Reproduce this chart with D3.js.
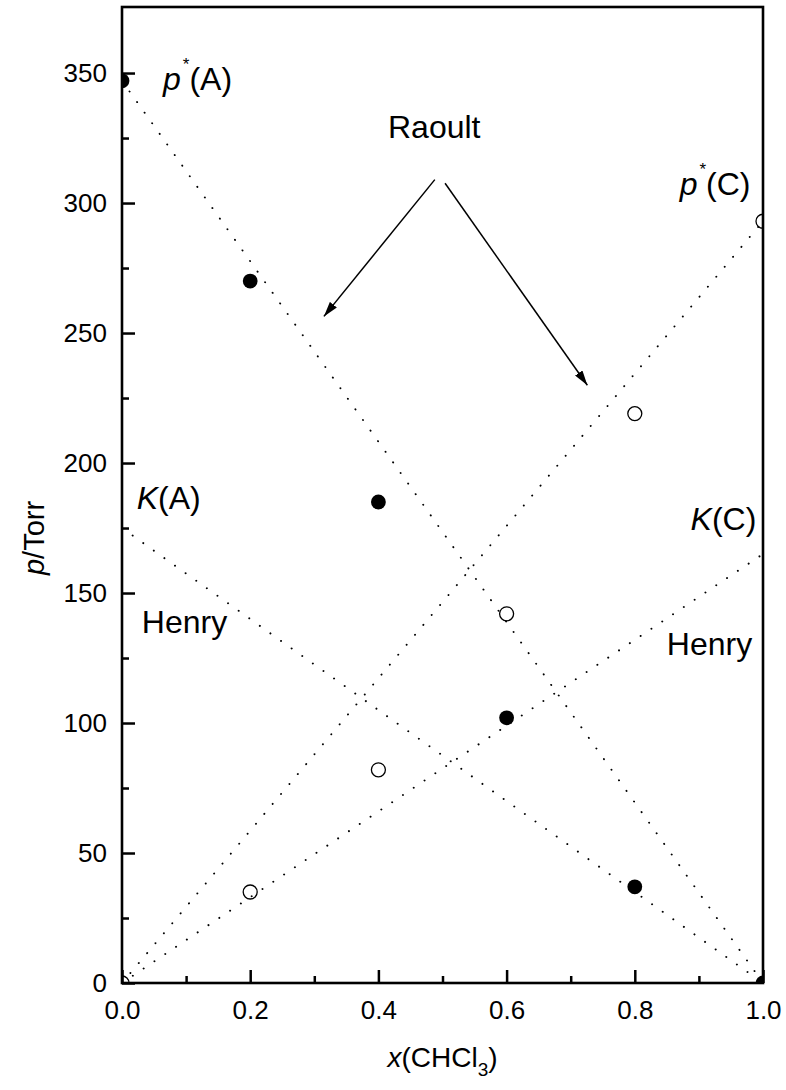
<!DOCTYPE html>
<html>
<head>
<meta charset="utf-8">
<script src="https://cdn.jsdelivr.net/npm/d3@7"></script>
<style>
  body { margin: 0; background: #fff; }
  text { font-family: "Liberation Sans", Arial, sans-serif; fill: #000; }
</style>
</head>
<body>
<svg id="drawing_region"></svg>
<script>
// mole fraction of chloroform
const xFrac = [0.0, 0.2, 0.4, 0.6, 0.8, 1.0];
// partial pressures (Torr)
const pAcetone = [347, 270, 185, 102, 37, 0];     // filled circles
const pChloroform = [0, 35, 82, 142, 219, 293];   // open circles

// ideal (Raoult) and Henry lines, end points [x, p]
const raoultA = [[0, 347], [1, 0]];
const raoultC = [[0, 0], [1, 293]];
const henryA = [[0, 175], [1, 0]];
const henryC = [[0, 0], [1, 165]];

const xMajor = [0, 0.2, 0.4, 0.6, 0.8, 1.0];
const xMinor = [0.1, 0.3, 0.5, 0.7, 0.9];
const yMajor = [0, 50, 100, 150, 200, 250, 300, 350];
const yMinor = [25, 75, 125, 175, 225, 275, 325];

// text labels placed in data coords
const labels = [
    { x: 0.064, y: 343.5, parts: [["p", "i"], ["*", "sup"], ["(A)", ""]] },
    { x: 0.415, y: 325, parts: [["Raoult", ""]] },
    { x: 0.870, y: 303, parts: [["p", "i"], ["*", "sup"], ["(C)", ""]] },
    { x: 0.023, y: 182.3, parts: [["K", "i"], ["(A)", ""]] },
    { x: 0.031, y: 134.6, parts: [["Henry", ""]] },
    { x: 0.887, y: 174.2, parts: [["K", "i"], ["(C)", ""]] },
    { x: 0.850, y: 126.2, parts: [["Henry", ""]] }
];

// arrows from "Raoult" to the two ideal lines [x0, y0, x1, y1]
const arrows = [
    [0.488, 309, 0.315, 256.4],
    [0.504, 307.6, 0.726, 229.9]
];

const config = {
    width: 786,
    height: 1090,
    margin: { top: 7, right: 23, bottom: 107, left: 122 }
};

const svg = d3.select('#drawing_region')
    .attr('width', config.width)
    .attr('height', config.height);

const inner_width = config.width - config.margin.left - config.margin.right;
const inner_height = config.height - config.margin.top - config.margin.bottom;

const chart = svg.append('g')
    .attr('transform', `translate(${config.margin.left}, ${config.margin.top})`);

const xscale = d3.scaleLinear().domain([0, 1.0]).range([0, inner_width]);
const yscale = d3.scaleLinear().domain([0, 375.4]).range([inner_height, 0]);

chart.append('clipPath').attr('id', 'clip')
    .append('rect')
    .attr('width', inner_width)
    .attr('height', inner_height);

const plot = chart.append('g').attr('clip-path', 'url(#clip)');

// dotted lines
const line = d3.line()
    .x(d => xscale(d[0]))
    .y(d => yscale(d[1]));

[raoultA, raoultC, henryA, henryC].forEach(seg => {
    plot.append('path')
        .attr('d', line(seg))
        .attr('fill', 'none')
        .attr('stroke', 'black')
        .attr('stroke-width', 1.9)
        .attr('stroke-linecap', 'round')
        .attr('stroke-dasharray', '0.1 12.9');
});

// data points
plot.selectAll('.filled')
    .data(xFrac.map((x, i) => [x, pAcetone[i]]))
    .enter()
    .append('circle')
    .attr('cx', d => xscale(d[0]))
    .attr('cy', d => yscale(d[1]))
    .attr('r', 7.4)
    .attr('fill', 'black');

plot.selectAll('.open')
    .data(xFrac.map((x, i) => [x, pChloroform[i]]))
    .enter()
    .append('circle')
    .attr('cx', d => xscale(d[0]))
    .attr('cy', d => yscale(d[1]))
    .attr('r', 7)
    .attr('fill', 'none')
    .attr('stroke', 'black')
    .attr('stroke-width', 1.3);

// axes (ticks point inwards)
const xaxis_group = chart.append('g')
    .attr('transform', `translate(0, ${inner_height})`);
xaxis_group.call(d3.axisBottom(xscale).tickValues(xMajor).tickSize(-13)
    .tickPadding(18).tickFormat(d3.format('.1f')));
xaxis_group.append('g')
    .call(d3.axisBottom(xscale).tickValues(xMinor).tickSize(-7).tickFormat(''));

const yaxis_group = chart.append('g');
yaxis_group.call(d3.axisLeft(yscale).tickValues(yMajor).tickSize(-13)
    .tickPadding(15).tickFormat(d3.format('d')));
yaxis_group.append('g')
    .call(d3.axisLeft(yscale).tickValues(yMinor).tickSize(-7).tickFormat(''));

chart.selectAll('.domain').remove();
chart.selectAll('.tick line').attr('stroke-width', 2.5);
chart.selectAll('.tick text')
    .style('font-size', '26px')
    .style('font-family', '"Liberation Sans", Arial, sans-serif');

// frame
chart.append('rect')
    .attr('width', inner_width)
    .attr('height', inner_height)
    .attr('fill', 'none')
    .attr('stroke', 'black')
    .attr('stroke-width', 2.6);

// axis titles
const xt = svg.append('text')
    .attr('x', config.margin.left + inner_width / 2)
    .attr('y', 1067)
    .attr('text-anchor', 'middle')
    .style('font-size', '28px');
xt.append('tspan').attr('font-style', 'italic').text('x');
xt.append('tspan').text('(CHCl');
xt.append('tspan').attr('dy', 9).style('font-size', '19px').text('3');
xt.append('tspan').attr('dy', -9).text(')');

const yt = svg.append('text')
    .attr('transform', 'translate(44, 538) rotate(-90)')
    .attr('text-anchor', 'middle')
    .style('font-size', '29px');
yt.append('tspan').attr('font-style', 'italic').text('p');
yt.append('tspan').text('/Torr');

// annotation labels
labels.forEach(l => {
    const t = chart.append('text')
        .attr('x', xscale(l.x))
        .attr('y', yscale(l.y))
        .style('font-size', '32px');
    let up = false;
    l.parts.forEach(p => {
        const s = t.append('tspan').text(p[0]);
        if (p[1] === 'i') s.attr('font-style', 'italic');
        if (p[1] === 'sup') {
            s.style('font-size', '17px').attr('dx', 2).attr('dy', -20);
            up = true;
        } else if (up) {
            s.attr('dy', 20);
            up = false;
        }
    });
});

// arrows
svg.append('defs').append('marker')
    .attr('id', 'head')
    .attr('viewBox', '0 0 15 9')
    .attr('refX', 15)
    .attr('refY', 4.5)
    .attr('markerWidth', 15)
    .attr('markerHeight', 9)
    .attr('markerUnits', 'userSpaceOnUse')
    .attr('orient', 'auto')
    .append('path')
    .attr('d', 'M0,0 L15,4.5 L0,9 Z')
    .attr('fill', 'black');

chart.selectAll('.arrow')
    .data(arrows)
    .enter()
    .append('line')
    .attr('x1', d => xscale(d[0]))
    .attr('y1', d => yscale(d[1]))
    .attr('x2', d => xscale(d[2]))
    .attr('y2', d => yscale(d[3]))
    .attr('stroke', 'black')
    .attr('stroke-width', 1.5)
    .attr('marker-end', 'url(#head)');
</script>
</body>
</html>
